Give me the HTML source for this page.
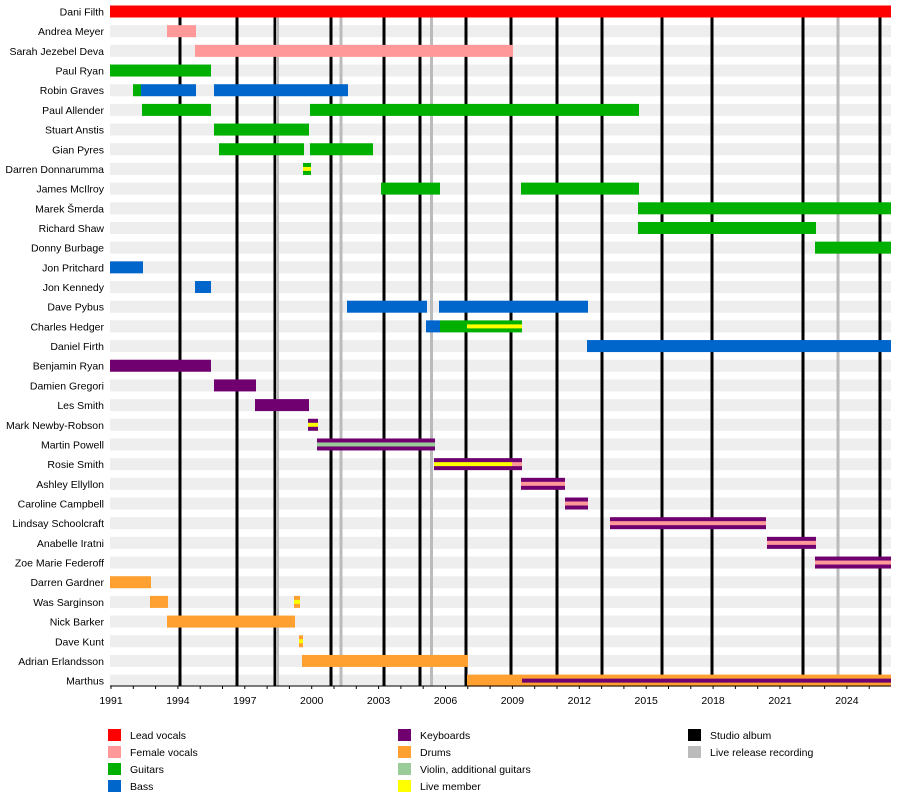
<!DOCTYPE html>
<html><head><meta charset="utf-8"><style>
body{margin:0;background:#fff;}
svg{display:block;font-family:"Liberation Sans",Arial,sans-serif;}
</style></head><body>
<svg width="900" height="805" viewBox="0 0 900 805" xmlns="http://www.w3.org/2000/svg">
<g id="bands" fill="#eeeeee"></g>
<g id="lines"></g>
<g id="bars"></g>
<g id="names" font-size="10.5" text-anchor="end" fill="#000"></g>
<g id="axis"></g>
<g font-size="10.5" fill="#000">
<rect x="108" y="729" width="13" height="12" fill="#ff0000"/><text x="130" y="739">Lead vocals</text>
<rect x="108" y="746" width="13" height="12" fill="#ff9999"/><text x="130" y="756">Female vocals</text>
<rect x="108" y="763" width="13" height="12" fill="#00b000"/><text x="130" y="773">Guitars</text>
<rect x="108" y="780" width="13" height="12" fill="#0066cc"/><text x="130" y="790">Bass</text>
<rect x="398" y="729" width="13" height="12" fill="#700070"/><text x="420" y="739">Keyboards</text>
<rect x="398" y="746" width="13" height="12" fill="#ffa030"/><text x="420" y="756">Drums</text>
<rect x="398" y="763" width="13" height="12" fill="#99cc99"/><text x="420" y="773">Violin, additional guitars</text>
<rect x="398" y="780" width="13" height="12" fill="#ffff00"/><text x="420" y="790">Live member</text>
<rect x="688" y="729" width="13" height="12" fill="#000"/><text x="710" y="739">Studio album</text>
<rect x="688" y="746" width="13" height="12" fill="#bbbbbb"/><text x="710" y="756">Live release recording</text>
</g>
</svg>
<script>
const NS="http://www.w3.org/2000/svg";
function el(p,t,a,txt){const e=document.createElementNS(NS,t);for(const k in a)e.setAttribute(k,a[k]);if(txt)e.textContent=txt;document.getElementById(p).appendChild(e);}
const names=["Dani Filth","Andrea Meyer","Sarah Jezebel Deva","Paul Ryan","Robin Graves","Paul Allender","Stuart Anstis","Gian Pyres","Darren Donnarumma","James McIlroy","Marek Šmerda","Richard Shaw","Donny Burbage","Jon Pritchard","Jon Kennedy","Dave Pybus","Charles Hedger","Daniel Firth","Benjamin Ryan","Damien Gregori","Les Smith","Mark Newby-Robson","Martin Powell","Rosie Smith","Ashley Ellyllon","Caroline Campbell","Lindsay Schoolcraft","Anabelle Iratni","Zoe Marie Federoff","Darren Gardner","Was Sarginson","Nick Barker","Dave Kunt","Adrian Erlandsson","Marthus"];
const cy=i=>11.5+i*19.68;
names.forEach((n,i)=>{el("bands","rect",{x:110,y:cy(i)-6,width:781,height:12});el("names","text",{x:104,y:cy(i)+4},n);});
[180,237,275,331,384,420,466,511,557,602,662,712,803,880].forEach(x=>el("lines","rect",{x:x-1.5,y:17,width:3,height:669,fill:"#000"}));
[277.5,341,431.5,838].forEach(x=>el("lines","rect",{x:x-1.5,y:17,width:3,height:669,fill:"#bbbbbb"}));
const C={r:"#ff0000",p:"#ff9999",g:"#00b000",b:"#0066cc",k:"#700070",d:"#ffa030",v:"#99cc99",y:"#ffff00"};
const bars=[
[0,110,891,"r"],[1,167,196,"p"],[2,195,513,"p"],[3,110,211,"g"],
[4,133,141,"g"],[4,141,196,"b"],[4,214,348,"b"],
[5,142,211,"g"],[5,310,639,"g"],[6,214,309,"g"],[7,219,304,"g"],[7,310,373,"g"],
[8,303,311,"g","y"],[9,381,440,"g"],[9,521,639,"g"],[10,638,891,"g"],[11,638,816,"g"],[12,815,891,"g"],
[13,110,143,"b"],[14,195,211,"b"],[15,347,427,"b"],[15,439,588,"b"],
[16,426,440,"b"],[16,440,522,"g"],[17,587,891,"b"],
[18,110,211,"k"],[19,214,256,"k"],[20,255,309,"k"],[21,308,318,"k","y"],[22,317,435,"k","v"],
[23,434,522,"k"],[24,521,565,"k","p"],[25,565,588,"k","p"],[26,610,766,"k","p"],[27,767,816,"k","p"],[28,815,891,"k","p"],
[29,110,151,"d"],[30,150,168,"d"],[30,294,300,"d","y"],[31,167,295,"d"],[32,299,303,"d","y"],[33,302,468,"d"],[34,467,891,"d"]
];
bars.forEach(b=>{el("bars","rect",{x:b[1],y:cy(b[0])-6,width:b[2]-b[1],height:12,fill:C[b[3]]});
 if(b[4])el("bars","rect",{x:b[1],y:cy(b[0])-2,width:b[2]-b[1],height:4,fill:C[b[4]]});});
el("bars","rect",{x:467,y:cy(16)-2,width:55,height:4,fill:C.y});
el("bars","rect",{x:434,y:cy(23)-2,width:78,height:4,fill:C.y});
el("bars","rect",{x:512,y:cy(23)-2,width:10,height:4,fill:C.p});
el("bars","rect",{x:522,y:cy(34)-2,width:369,height:4,fill:C.k});
el("axis","rect",{x:110,y:685.5,width:781,height:1,fill:"#000"});
for(let y=1991;y<=2025;y++){const x=111+(y-1991)*22.3;el("axis","rect",{x:x-0.5,y:686,width:1,height:3,fill:"#000"});
 if((y-1991)%3==0)el("axis","text",{x:x,y:704,"font-size":"10.5","text-anchor":"middle"},String(y));}
</script>
</body></html>
